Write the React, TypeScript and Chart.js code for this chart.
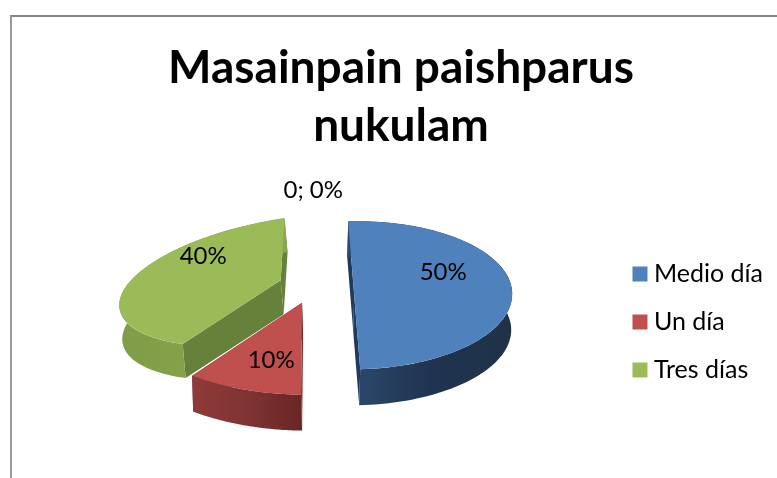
import React, { useEffect, useRef } from "react";
import { Chart, registerables } from "chart.js";

Chart.register(...registerables);

const titleLines = ["Masainpain paishparus", "nukulam"];
const categories = ["Medio día", "Un día", "Tres días", ""];
const values = [5, 1, 4, 0];
const sliceColors = ["#4f81bd", "#c0504d", "#9bbb59", "#8064a2"];

// 3D look: per-slice face matrix [a, b, c, d], apex nudge, extrusion vector
const faceMatrix = [
  [1, -0.01, 0.003, 0.469],
  [1.174, 0.0355, -0.047, 0.5814],
  [1.02, -0.135, -0.06, 0.397],
];
const apexNudge = [
  [0, 0],
  [-5, -10],
  [-1, -11],
];
const extrude = [
  [-1, 36],
  [1, 36],
  [3, 34],
];
const innerWall = ["#1f3a5c", "#6f2a28", "#66813a"];
const outerWall = [
  ["#2c4a6e", "#1f3450", "#1f3248"],
  ["#8f3a38", "#7f3433", "#6a2625"],
  ["#7f9c47", "#86a34b", "#88a64c"],
];
const drawOrder = [2, 0, 1];
const squash = 0.47;
const explode = 37;
const labelOffset = [
  [126, -24],
  [-46, 64],
  [-114, -40],
  [-4, -106],
];
const FONT = "Lato";
const pieShift = { x: -5, y: -26 };

const pie3d = {
  id: "pie3d",
  beforeDatasetDraw(chart: any, args: any) {
    const ctx = chart.ctx;
    const meta = chart.getDatasetMeta(args.index);
    for (const i of drawOrder) {
      const el = meta.data[i];
      const R = el.outerRadius;
      const mid = (el.startAngle + el.endAngle) / 2;
      const [a, b, c, d] = faceMatrix[i];
      const tx = el.x + pieShift.x + explode * Math.cos(mid) + apexNudge[i][0];
      const ty = el.y + pieShift.y + squash * explode * Math.sin(mid) + apexNudge[i][1];
      const [ex, ey] = extrude[i];
      const pt = (t: number) => {
        const ux = R * Math.cos(t);
        const uy = R * Math.sin(t);
        return [tx + a * ux + c * uy, ty + b * ux + d * uy];
      };
      const poly = (pts: number[][], fill: any) => {
        ctx.beginPath();
        pts.forEach((p, k) => (k ? ctx.lineTo(p[0], p[1]) : ctx.moveTo(p[0], p[1])));
        ctx.closePath();
        ctx.fillStyle = fill;
        ctx.fill();
      };
      const s = pt(el.startAngle);
      const e = pt(el.endAngle);
      const apex = [tx, ty];
      const shift = (p: number[]) => [p[0] + ex, p[1] + ey];
      poly([s, apex, shift(apex), shift(s)], innerWall[i]);
      poly([e, apex, shift(apex), shift(e)], innerWall[i]);

      const arc: number[][] = [];
      const N = 90;
      for (let k = 0; k <= N; k++) {
        arc.push(pt(el.startAngle + ((el.endAngle - el.startAngle) * k) / N));
      }
      const xs = arc.map((p) => p[0]);
      const g = ctx.createLinearGradient(Math.min(...xs), 0, Math.max(...xs), 0);
      const stops = outerWall[i];
      g.addColorStop(0, stops[0]);
      g.addColorStop(0.5, stops[1]);
      g.addColorStop(1, stops[2]);
      poly([...arc, ...arc.map(shift).reverse()], g);

      ctx.save();
      ctx.translate(tx, ty);
      ctx.transform(a, b, c, d, 0, 0);
      ctx.translate(-el.x, -el.y);
      el.draw(ctx);
      ctx.restore();
    }
    return false;
  },
  afterDatasetsDraw(chart: any) {
    const ctx = chart.ctx;
    const meta = chart.getDatasetMeta(0);
    const total = values.reduce((p, v) => p + v, 0);
    ctx.save();
    ctx.font = `24px ${FONT}`;
    ctx.fillStyle = "#000";
    ctx.textAlign = "center";
    ctx.textBaseline = "middle";
    values.forEach((v, i) => {
      const el = meta.data[i];
      const pct = Math.round((v / total) * 100);
      const text = v === 0 ? `${v}; ${pct}%` : `${pct}%`;
      ctx.fillText(text, el.x + pieShift.x + labelOffset[i][0], el.y + pieShift.y + labelOffset[i][1]);
    });
    ctx.restore();
  },
};

export default function App() {
  const ref = useRef<HTMLCanvasElement>(null);
  useEffect(() => {
    document.body.style.margin = "0";
    const chart = new Chart(ref.current as HTMLCanvasElement, {
      type: "pie",
      data: {
        labels: categories,
        datasets: [
          {
            data: values,
            backgroundColor: sliceColors,
            borderWidth: 0,
            radius: 158,
          } as any,
        ],
      },
      options: {
        responsive: false,
        animation: false,
        rotation: -2,
        layout: { padding: { left: 29 } },
        plugins: {
          title: {
            display: true,
            text: titleLines,
            color: "#000",
            font: { family: FONT, weight: "bold", size: 46, lineHeight: 1.27 },
            padding: { top: 39, bottom: 10 },
          },
          legend: {
            position: "right",
            title: { display: true, text: " ", font: { size: 1 }, padding: { top: 165, bottom: 0 } },
            labels: {
              color: "#000",
              boxWidth: 3,
              boxHeight: 3,
              padding: 23,
              font: { family: FONT, size: 25 },
              generateLabels: (chart: any) =>
                (Chart as any).overrides.pie.plugins.legend.labels
                  .generateLabels(chart)
                  .map((it: any) => ({ ...it, lineWidth: 12, strokeStyle: it.fillStyle })),
              filter: (item: any) => item.text !== "",
            },
          },
          tooltip: { enabled: false },
        },
      },
      plugins: [pie3d],
    } as any);
    return () => chart.destroy();
  }, []);
  return (
    <div style={{ position: "relative", width: 777, height: 478, overflow: "hidden", background: "#fff" }}>
      <canvas ref={ref} width={773} height={478} style={{ position: "absolute", left: 0, top: 0 }} />
      <div
        style={{
          position: "absolute",
          left: 10,
          top: 15,
          width: 800,
          height: 500,
          borderLeft: "2px solid #999",
          borderTop: "2px solid #868686",
        }}
      />
    </div>
  );
}
